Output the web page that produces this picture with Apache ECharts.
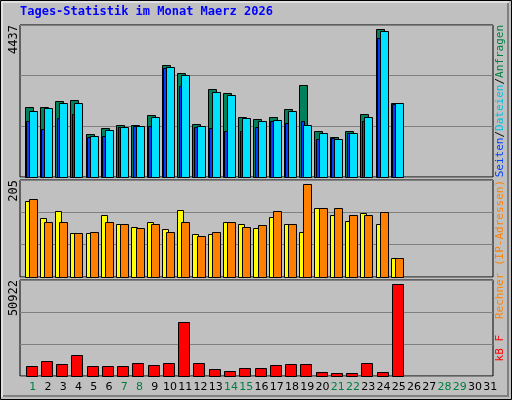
<!DOCTYPE html>
<html><head><meta charset="utf-8">
<script src="https://cdn.jsdelivr.net/npm/echarts@6/dist/echarts.min.js"></script>
<style>html,body{margin:0;padding:0;background:#c0c0c0}#c{width:512px;height:400px}</style>
</head><body><div id="c"></div>
<script>
const days = Array.from({length:31},(_,i)=>String(i+1));
const weekendDays = [1,7,8,14,15,21,22,28,29];
const hits  = [2035,2035,2218,2248,1255,1430,1509,1509,1810,3260,3036,1547,2569,2452,1751,1693,1751,1985,2686,1343,1168,1343,1839,4320,2160];
const files = [1918,2005,2151,2151,1197,1372,1451,1480,1751,3202,2977,1490,2481,2394,1722,1635,1664,1927,1518,1284,1109,1284,1751,4262,2160];
const pages = [1635,1401,1722,1839,1159,1197,1451,1490,1490,3173,2656,1460,1430,1343,1343,1460,1635,1576,1635,1109,1138,1284,1635,4058,2131];
const visits= [160,124,139,94,94,132,113,105,116,101,141,90,90,116,111,103,126,111,96,145,132,118,135,113,40];
const sites = [165,116,116,93,96,116,113,103,113,95,116,86,96,116,105,109,139,111,196,145,145,132,130,137,40];
const kbytes= [5304,7957,6365,11139,5304,5304,5304,6896,5835,6896,28644,6896,3713,2652,4243,4243,5835,6365,6365,2122,1591,1591,6896,2122,48800];
const max1=4437, max2=205, max3=50922;

function barSeries(gi, data, color, l, r){
  return {type:'custom', xAxisIndex:gi, yAxisIndex:gi, data:data.map((v,i)=>[i,v]),
    renderItem:(p,api)=>{
      const top=api.coord([api.value(0),api.value(1)]);
      const bot=api.coord([api.value(0),0]);
      const w=api.size([1,0])[0];
      const x0=top[0]+l*w, x1=top[0]+r*w;
      return {type:'rect',shape:{x:Math.round(x0)+0.5,y:Math.round(top[1])+0.5,width:Math.max(1,Math.round(x1-x0)),height:Math.round(bot[1]-top[1])},
        style:{fill:color,stroke:'#000',lineWidth:1}};
    }};
}
const grids=[{top:25,bottom:223},{top:180,bottom:123},{top:280,bottom:24}];
const maxes=[max1,max2,max3];
const chart=echarts.init(document.getElementById('c'),null,{renderer:'canvas'});
chart.setOption({
  backgroundColor:'#c0c0c0', animation:false,
  grid:grids.map(g=>({left:20,right:19,top:g.top,bottom:g.bottom,show:true,borderColor:'#000',borderWidth:1,backgroundColor:'#c0c0c0'})),
  xAxis:[0,1,2].map(i=>({type:'category',gridIndex:i,data:days,boundaryGap:true,
    axisLine:{show:false},axisTick:{show:false},
    axisLabel:{show:i===2,margin:6,fontFamily:'DejaVu Sans',fontSize:11,interval:0,padding:[0,0,0,10],
      color:(v)=>weekendDays.includes(+v)?'#008040':'#000'}})),
  yAxis:maxes.map((m,i)=>({type:'value',gridIndex:i,min:0,max:m,interval:m/3,
    axisLabel:{show:false},axisLine:{show:false},axisTick:{show:false},
    splitLine:{lineStyle:{color:'#808080',width:1}}})),
  series:[
    barSeries(0,hits,'#00805c',-0.2,0.32),
    barSeries(0,pages,'#0040ff',-0.1,0.12),
    barSeries(0,files,'#00e0ff',0.07,0.58),
    barSeries(1,visits,'#ffff00',-0.2,0.2),
    barSeries(1,sites,'#ff8000',0.07,0.58),
    barSeries(2,kbytes,'#ff0000',-0.13,0.58)
  ],
  graphic:[
    {type:'rect',shape:{x:0.5,y:0.5,width:511,height:399},style:{fill:null,stroke:'#000',lineWidth:1}},
    {type:'polyline',shape:{points:[[2,397],[2,2],[509,2]]},style:{stroke:'#fff',lineWidth:1,fill:null}},
    {type:'polyline',shape:{points:[[3,396],[508,396],[508,3]]},style:{stroke:'#808080',lineWidth:2,fill:null}},
    {type:'text',x:20,y:12,style:{text:'Tages-Statistik im Monat Maerz 2026',fill:'#0000ff',font:'bold 12px "DejaVu Sans Mono"',verticalAlign:'middle'}},
    {type:'text',x:14,y:25,rotation:Math.PI/2,style:{text:String(max1),fill:'#000',font:'12px "DejaVu Sans Mono"',align:'right',verticalAlign:'middle'}},
    {type:'text',x:14,y:180,rotation:Math.PI/2,style:{text:String(max2),fill:'#000',font:'12px "DejaVu Sans Mono"',align:'right',verticalAlign:'middle'}},
    {type:'text',x:14,y:280,rotation:Math.PI/2,style:{text:String(max3),fill:'#000',font:'12px "DejaVu Sans Mono"',align:'right',verticalAlign:'middle'}},
    {type:'text',x:500,y:25,rotation:Math.PI/2,style:{rich:{g:{fill:'#008040'},k:{fill:'#000'},c:{fill:'#00c0e0'},b:{fill:'#0040ff'}},
      text:'{b|Seiten}{k|/}{c|Dateien}{k|/}{g|Anfragen}',font:'11px "DejaVu Sans Mono"',align:'right',verticalAlign:'middle'}},
    {type:'text',x:500,y:180,rotation:Math.PI/2,style:{text:'Rechner (IP-Adressen)',fill:'#ff8000',font:'11px "DejaVu Sans Mono"',align:'right',verticalAlign:'middle'}},
    {type:'text',x:500,y:335,rotation:Math.PI/2,style:{text:'kB F',fill:'#ff0000',font:'11px "DejaVu Sans Mono"',align:'right',verticalAlign:'middle'}}
  ]
});
</script></body></html>
